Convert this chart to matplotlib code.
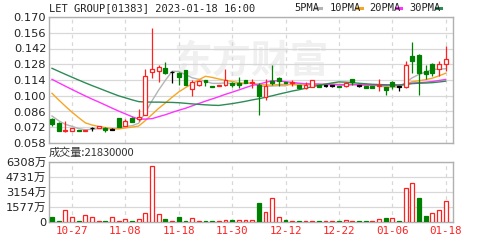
import numpy as np
import pandas as pd
import matplotlib
matplotlib.use("Agg")
import matplotlib.pyplot as plt

plt.rcParams['font.family'] = ['DejaVu Sans', 'Noto Sans CJK SC']

# trading days shown (HK, 2022-10-24 .. 2023-01-18)
dates = ["10-24", "10-25", "10-26", "10-27", "10-28", "10-31",
         "11-01", "11-02", "11-03", "11-04", "11-07", "11-08", "11-09", "11-10",
         "11-11", "11-14", "11-15", "11-16", "11-17", "11-18", "11-21", "11-22",
         "11-23", "11-24", "11-25", "11-28", "11-29", "11-30",
         "12-01", "12-02", "12-05", "12-06", "12-07", "12-08", "12-09", "12-12",
         "12-13", "12-14", "12-15", "12-16", "12-19", "12-20", "12-21", "12-22",
         "12-23", "12-28", "12-29", "12-30",
         "01-03", "01-04", "01-05", "01-06", "01-09", "01-10", "01-11", "01-12",
         "01-13", "01-16", "01-17", "01-18"]

opens = [0.079, 0.076, 0.069, 0.069, 0.070, 0.069, 0.071, 0.071, 0.071, 0.070,
         0.080, 0.073, 0.080, 0.079, 0.083, 0.121, 0.122, 0.125, 0.121, 0.120,
         0.123, 0.106, 0.110, 0.114, 0.109, 0.109, 0.110, 0.111, 0.111, 0.114,
         0.111, 0.110, 0.099, 0.113, 0.116, 0.112, 0.111, 0.110, 0.107, 0.108,
         0.110, 0.109, 0.109, 0.109, 0.109, 0.115, 0.109, 0.109, 0.109, 0.109,
         0.108, 0.112, 0.108, 0.108, 0.135, 0.136, 0.122, 0.128, 0.124, 0.128]
highs = [0.080, 0.077, 0.078, 0.071, 0.070, 0.070, 0.072, 0.073, 0.072, 0.071,
         0.080, 0.079, 0.081, 0.088, 0.124, 0.160, 0.127, 0.130, 0.122, 0.121,
         0.123, 0.114, 0.114, 0.114, 0.109, 0.110, 0.124, 0.112, 0.117, 0.114,
         0.115, 0.111, 0.115, 0.127, 0.117, 0.112, 0.114, 0.110, 0.112, 0.114,
         0.110, 0.110, 0.110, 0.109, 0.112, 0.115, 0.110, 0.109, 0.109, 0.115,
         0.108, 0.113, 0.109, 0.131, 0.148, 0.137, 0.127, 0.129, 0.131, 0.144]
lows = [0.073, 0.069, 0.068, 0.069, 0.069, 0.069, 0.069, 0.071, 0.068, 0.070,
        0.072, 0.073, 0.077, 0.078, 0.083, 0.116, 0.112, 0.119, 0.111, 0.110,
        0.110, 0.100, 0.109, 0.109, 0.108, 0.109, 0.109, 0.108, 0.107, 0.111,
        0.107, 0.083, 0.096, 0.110, 0.109, 0.111, 0.109, 0.107, 0.106, 0.108,
        0.108, 0.108, 0.108, 0.108, 0.108, 0.110, 0.108, 0.107, 0.107, 0.104,
        0.101, 0.106, 0.104, 0.107, 0.120, 0.101, 0.115, 0.118, 0.118, 0.122]
closes = [0.075, 0.069, 0.070, 0.071, 0.069, 0.070, 0.071, 0.073, 0.070, 0.070,
          0.072, 0.078, 0.077, 0.081, 0.118, 0.124, 0.126, 0.120, 0.121, 0.117,
          0.110, 0.112, 0.113, 0.112, 0.108, 0.110, 0.114, 0.110, 0.110, 0.111,
          0.112, 0.100, 0.109, 0.111, 0.113, 0.111, 0.112, 0.107, 0.110, 0.114,
          0.108, 0.109, 0.109, 0.108, 0.111, 0.112, 0.109, 0.107, 0.107, 0.110,
          0.105, 0.109, 0.108, 0.127, 0.131, 0.120, 0.119, 0.120, 0.128, 0.133]
# volume in 万 shares
volumes = [530, 100, 1215, 530, 100, 714, 530, 100, 100, 530,
           100, 360, 100, 290, 900, 5860, 790, 300, 100, 500,
           100, 470, 100, 100, 100, 100, 180, 180, 180, 180,
           180, 1960, 1000, 2560, 530, 180, 100, 100, 100, 100,
           100, 100, 100, 100, 200, 100, 100, 100, 100, 290,
           430, 430, 100, 3560, 4090, 2560, 600, 900, 1250, 2183]
# closes before the window, only used to seed the moving averages
prior_closes = [0.150, 0.149, 0.148, 0.146, 0.145, 0.143, 0.141, 0.140, 0.139, 0.139,
                0.130, 0.131, 0.129, 0.128, 0.127, 0.126, 0.125, 0.124, 0.125, 0.125,
                0.128, 0.126, 0.124, 0.118, 0.116, 0.090, 0.086, 0.080, 0.079]

ma_periods = [5, 10, 20, 30]
ma_colors = ["#b4b4b4", "#f5a623", "#ff33ff", "#2e8b57"]
RED = "#ff2020"
GREEN = "#008000"

n = len(closes)
x = np.arange(n)
allc = pd.Series(prior_closes + closes)
prev_close = np.array(([prior_closes[-1]] + closes)[:-1])

fig = plt.figure(figsize=(5.02, 2.40), dpi=100)
W, H = 502, 240
ax = fig.add_axes([49 / W, 1 - 143 / H, 404 / W, 126 / H])
axv = fig.add_axes([49 / W, 1 - 222 / H, 404 / W, 60 / H])

xlim = (-0.45, 60.1)
tick_idx = list(range(3, n, 8))

for a in (ax, axv):
    a.set_xlim(*xlim)
    for s in a.spines.values():
        s.set_color("#b0b0b0")
        s.set_linewidth(1.0)
    a.set_xticks(tick_idx)
    a.grid(axis="x", color="#d8d8d8", linestyle=(0, (3, 3)), linewidth=0.9)
    a.grid(axis="y", color="#d8d8d8", linestyle="-", linewidth=0.9)
    a.set_axisbelow(True)
    a.tick_params(length=0, labelsize=8.2, colors="#222222", pad=2)

# price panel
ax.set_ylim(0.058, 0.170)
ax.set_yticks(np.arange(0.058, 0.1701, 0.014))
ax.set_yticklabels(["%.3f" % v for v in np.arange(0.058, 0.1701, 0.014)])
ax.set_xticklabels([])

ax.text(0.5, 0.64, "东方财富", transform=ax.transAxes, ha="center", va="center",
        fontsize=28, color="#f0f0f0", family=["Noto Sans CJK SC"], style="italic",
        fontweight="bold", zorder=0)

for p, c in zip(ma_periods, ma_colors):
    ma = allc.rolling(p).mean().values[len(prior_closes):]
    ax.plot(x, ma, color=c, linewidth=1.0, zorder=2)

bw = 0.58
for i in range(n):
    o, h, l, c = opens[i], highs[i], lows[i], closes[i]
    if c > o:
        col = RED
    elif c < o:
        col = GREEN
    else:
        col = "#000000"
    ax.vlines(x[i], l, h, color=col, linewidth=0.9, zorder=3)
    bottom = min(o, c)
    height = max(abs(c - o), 0.0004)
    face = "white" if c > o else col
    ax.bar(x[i], height, bw, bottom=bottom, color=face, edgecolor=col,
           linewidth=0.9, zorder=4)

# volume panel
vmax = 6308
axv.set_ylim(0, vmax)
vt = [0, 1577, 3154, 4731, 6308]
axv.set_yticks(vt)
axv.set_yticklabels(["0"] + ["%d万" % v for v in vt[1:]], family=["DejaVu Sans", "Noto Sans CJK SC"])
axv.set_xticklabels(dates[3::8], color="#ff2020", fontsize=7.8, family="DejaVu Sans Mono")
axv.tick_params(axis="x", pad=3)

for i in range(n):
    up = closes[i] >= prev_close[i]
    col = RED if up else GREEN
    axv.bar(x[i], volumes[i], bw, color="white" if up else col, edgecolor=col,
            linewidth=0.9, zorder=3)

fig.text(49 / W, 1 - 153 / H, "成交量:%d" % (volumes[-1] * 10000), fontsize=8,
         color="#333333", va="center", family=["Noto Sans CJK SC", "DejaVu Sans"])

fig.text(49 / W, 1 - 8 / H, "LET GROUP[01383] 2023-01-18 16:00", fontsize=7.5,
         color="#222222", va="center", family="DejaVu Sans Mono")

# legend
leg_x = [294, 330, 369, 409]
for p, c, lx in zip(ma_periods, ma_colors, leg_x):
    t = "%dPMA" % p
    fig.text(lx / W, 1 - 8 / H, t, fontsize=7.5, color="#222222", va="center",
             family="DejaVu Sans Mono")
    mx = lx + len(t) * 4.6 + 4
    fig.add_artist(plt.Line2D([mx / W, (mx + 5) / W], [1 - 8 / H, 1 - 8 / H],
                              color=c, linewidth=2.2, transform=fig.transFigure))

fig.savefig("out.png", dpi=100)
